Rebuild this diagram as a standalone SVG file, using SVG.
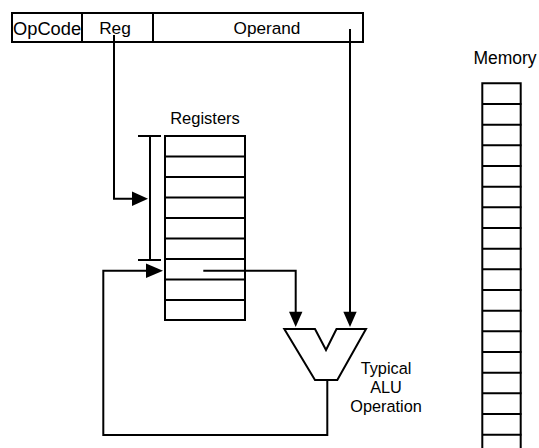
<svg xmlns="http://www.w3.org/2000/svg" width="539" height="448" viewBox="0 0 539 448">
<style>
.s{fill:none;stroke:#000;stroke-width:2}
.w{fill:#fff;stroke:#000;stroke-width:2}
.t{font-family:"Liberation Sans",Arial,sans-serif;fill:#000}
.ah{fill:#000;stroke:none}
</style>
<rect width="539" height="448" fill="#fff"/>
<g id="instruction">
<rect class="w" x="12" y="13" width="351" height="29"/>
<line class="s" x1="82" y1="13" x2="82" y2="42"/>
<line class="s" x1="153" y1="13" x2="153" y2="42"/>
<text class="t" x="13" y="35" font-size="18.3">OpCode</text>
<text class="t" x="115" y="34" font-size="17.3" text-anchor="middle">Reg</text>
<text class="t" x="267" y="34" font-size="17.2" text-anchor="middle">Operand</text>
</g>
<g id="registers">
<text class="t" x="205" y="124" font-size="16.5" text-anchor="middle">Registers</text>
<rect class="w" x="165" y="136" width="80" height="184"/>
<path class="s" d="M165,156.5H245M165,177H245M165,197.5H245M165,218H245M165,238.5H245M165,259H245M165,279.5H245M165,300H245"/>
</g>
<g id="memory">
<text class="t" x="505" y="64" font-size="17.5" text-anchor="middle">Memory</text>
<path class="s" d="M482.3,448V83.3H520.7V448"/>
<path class="s" d="M482.3,104H521.5M482.3,124.7H521.5M482.3,145.3H521.5M482.3,166H521.5M482.3,186.7H521.5M482.3,207.3H521.5M482.3,228H521.5M482.3,248.7H521.5M482.3,269.3H521.5M482.3,290H521.5M482.3,310.7H521.5M482.3,331.3H521.5M482.3,352H521.5M482.3,372.7H521.5M482.3,393.3H521.5M482.3,414H521.5M482.3,434.7H521.5"/>
</g>
<g id="alu">
<polygon class="w" points="284.3,329 315,329 326,350 336.5,329 366,329 337.3,380 315,380"/>
<text class="t" font-size="16.3" text-anchor="middle"><tspan x="386" y="374">Typical</tspan><tspan x="386" y="393">ALU</tspan><tspan x="386" y="412">Operation</tspan></text>
</g>
<g id="bracket">
<path class="s" d="M150,136V260M138,136H161M138,260H161"/>
</g>
<g id="connectors">
<path class="s" d="M114,35V198.7H133"/>
<polygon class="ah" points="132,191.5 148,198.7 132,206"/>
<path class="s" d="M327.3,380V435H103.3V270.7H147"/>
<polygon class="ah" points="146,263.5 163,270.7 146,278"/>
<path class="s" d="M203.3,270.7H295.7V312"/>
<polygon class="ah" points="289,311.7 295.7,327 302.4,311.7"/>
<path class="s" d="M350,29V312"/>
<polygon class="ah" points="343.3,311.7 350,327 356.7,311.7"/>
</g>
</svg>
